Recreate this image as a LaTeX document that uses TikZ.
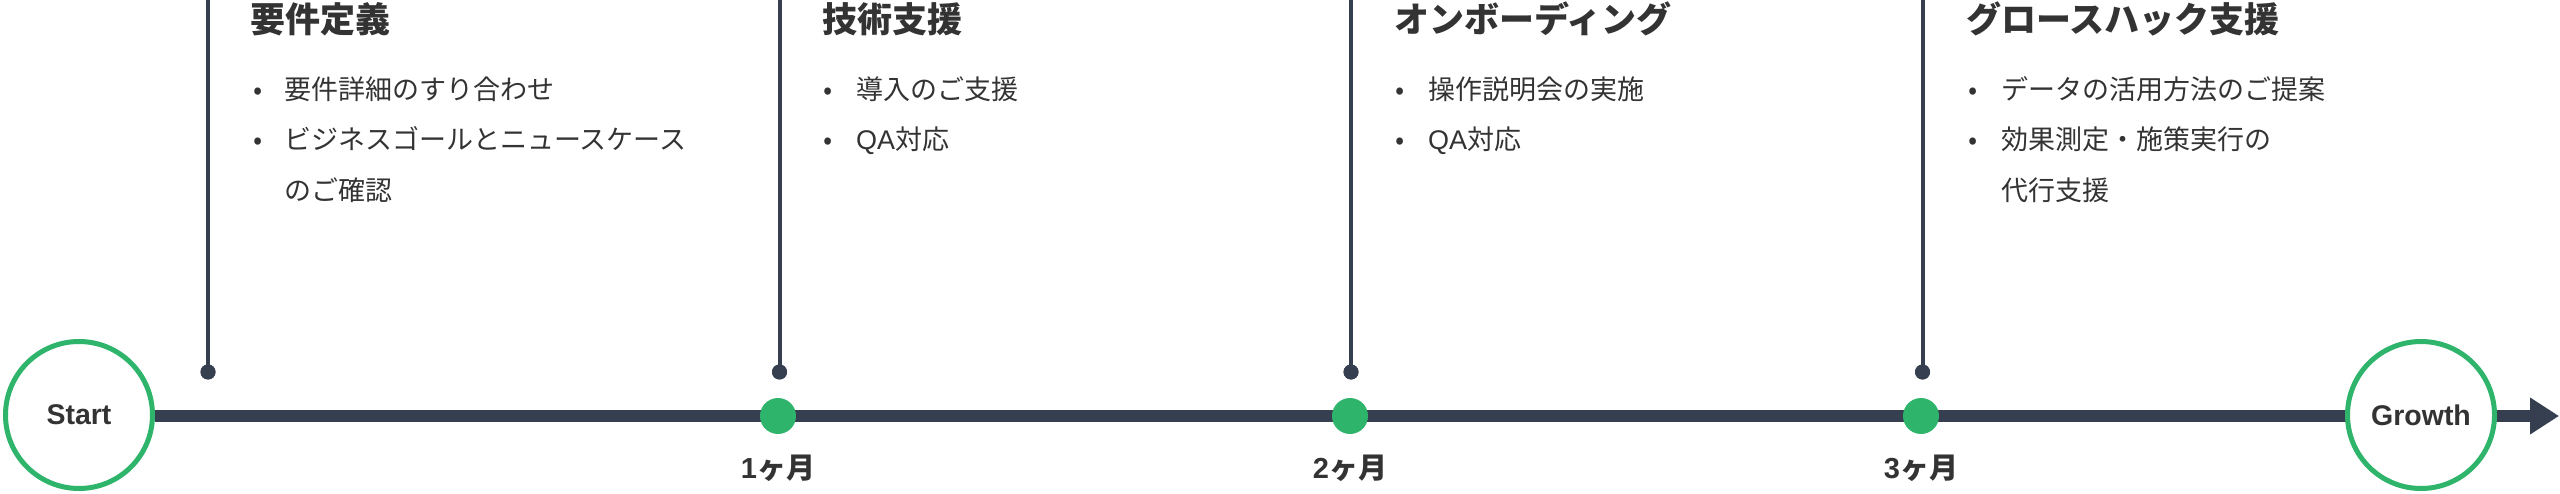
\documentclass[tikz,border=0pt]{standalone}
\usepackage{fontspec}
\setmainfont{Noto Sans CJK JP}
\newfontfamily\lat{Liberation Sans}
\usetikzlibrary{arrows.meta}
\definecolor{navy}{HTML}{363F4F}
\definecolor{grn}{HTML}{2EB46B}
\definecolor{txt}{HTML}{333333}
\begin{document}
\begin{tikzpicture}[x=1pt,y=-1pt,
  ring/.style={circle,draw=grn,line width=5pt,fill=white,minimum size=147pt,inner sep=0pt,font=\lat\fontsize{28.5}{30}\selectfont\bfseries,text=txt},
  mdot/.style={circle,fill=grn,minimum size=36pt,inner sep=0pt},
  pin/.style={circle,fill=navy,minimum size=15pt,inner sep=0pt},
  stem/.style={draw=navy,line width=4pt},
  axis/.style={draw=navy,line width=12pt},
  ttl/.style={anchor=base west,inner sep=0pt,font=\fontsize{35}{40}\selectfont\bfseries,text=txt},
  item/.style={anchor=base west,inner sep=0pt,font=\fontsize{27}{30}\selectfont,text=txt},
  bul/.style={anchor=base west,inner sep=0pt,font=\fontsize{27}{30}\selectfont,text=txt},
  mon/.style={anchor=base,inner sep=0pt,font=\fontsize{29}{32}\selectfont\bfseries,text=txt}]
\useasboundingbox (0,0) rectangle (2560,494);
% axis
\coordinate (tip) at (2559,416);
\coordinate (a0) at (155,416);
\path[axis,-{Triangle[length=29pt,width=35pt]}] (a0) -- (tip);
\node[ring] (start) at (79,415) {Start};
\node[ring] (growth) at (2421,415) {Growth};
% milestones
\node[mdot] (m1) at (778,416) {};
\node[mdot] (m2) at (1350,416) {};
\node[mdot] (m3) at (1921,416) {};
\node[mon] (l1) at (778,478) {{\lat 1}ヶ月};
\node[mon] (l2) at (1350,478) {{\lat 2}ヶ月};
\node[mon] (l3) at (1921,478) {{\lat 3}ヶ月};
% stems
\foreach \i/\x in {1/208,2/779.5,3/1351,4/1922.5}{
  \coordinate (t\i) at (\x,0);
  \node[pin] (p\i) at (\x,372) {};
  \path[stem] (t\i) -- (p\i.center);
  \node[pin] at (p\i) {};
}
% column 1
\node[ttl] (h1) at (250,33) {要件定義};
\node[bul] (b11) at (253,100) {•};
\node[item] (i11) at (284,100) {要件詳細のすり合わせ};
\node[bul] (b12) at (253,150) {•};
\node[item] (i12) at (284,150) {ビジネスゴールとニュースケース};
\node[item] (i13) at (284,201) {のご確認};
% column 2
\node[ttl] (h2) at (822,33) {技術支援};
\node[bul] (b21) at (823,100) {•};
\node[item] (i21) at (856,100) {導入のご支援};
\node[bul] (b22) at (823,150) {•};
\node[item] (i22) at (856,150) {{\lat QA}対応};
% column 3
\node[ttl] (h3) at (1394,33) {オンボーディング};
\node[bul] (b31) at (1395,100) {•};
\node[item] (i31) at (1428,100) {操作説明会の実施};
\node[bul] (b32) at (1395,150) {•};
\node[item] (i32) at (1428,150) {{\lat QA}対応};
% column 4
\node[ttl] (h4) at (1966,33) {グロースハック支援};
\node[bul] (b41) at (1968,100) {•};
\node[item] (i41) at (2001,100) {データの活用方法のご提案};
\node[bul] (b42) at (1968,150) {•};
\node[item] (i42) at (2001,150) {効果測定・施策実行の};
\node[item] (i43) at (2001,201) {代行支援};
\end{tikzpicture}
\end{document}
